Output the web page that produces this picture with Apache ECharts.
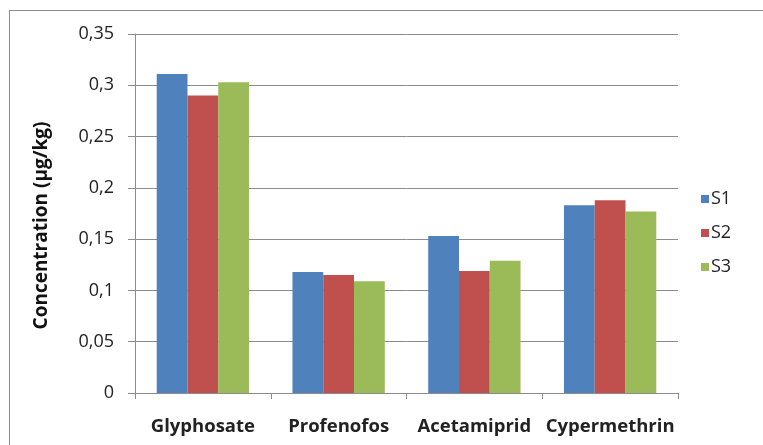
<!DOCTYPE html>
<html>
<head>
<meta charset="utf-8">
<script src="https://cdn.jsdelivr.net/npm/echarts@6/dist/echarts.min.js"></script>
<style>
html,body{margin:0;padding:0;background:#fff;}
#frame{position:absolute;left:9px;top:10px;width:760px;height:440px;border:1.5px solid #8c8c8c;box-sizing:border-box;}
#c{position:absolute;left:0;top:0;width:763px;height:445px;}
</style>
</head>
<body>
<div id="frame"></div>
<div id="c"></div>
<script>
const categories = ['Glyphosate', 'Profenofos', 'Acetamiprid', 'Cypermethrin'];
const s1 = [0.311, 0.118, 0.153, 0.183];
const s2 = [0.290, 0.115, 0.119, 0.188];
const s3 = [0.303, 0.109, 0.129, 0.177];
const yTicks = [0, 0.05, 0.1, 0.15, 0.2, 0.25, 0.3, 0.35];

const font = '"Open Sans", "Liberation Sans", sans-serif';
const chart = echarts.init(document.getElementById('c'), null, {renderer: 'canvas'});
const mk = (name, data, color) => ({
  name, type: 'bar', data, barGap: '0%', barCategoryGap: '32%',
  itemStyle: {color}
});
chart.setOption({
  animation: false,
  textStyle: {fontFamily: font},
  grid: {left: 135, right: 85, top: 34, bottom: 52},
  legend: {
    orient: 'vertical', left: 696, top: 185, itemGap: 16,
    itemWidth: 8, itemHeight: 8, icon: 'rect',
    textStyle: {fontSize: 18, color: '#222', fontFamily: font, padding: [0,0,0,-3]},
    data: ['S1', 'S2', 'S3']
  },
  xAxis: {
    type: 'category', data: categories,
    axisLine: {lineStyle: {color: '#8c8c8c', width: 1}},
    axisTick: {show: true, length: 6, lineStyle: {color: '#8c8c8c'}},
    axisLabel: {interval: 0, fontSize: 18.5, fontWeight: 'bold', color: '#222', margin: 24, fontFamily: font}
  },
  yAxis: {
    type: 'value', min: 0, max: 0.35, interval: 0.05,
    name: 'Concentration (µg/kg)', nameLocation: 'middle', nameGap: 84,
    nameTextStyle: {fontSize: 19, fontWeight: 'bold', color: '#111', fontFamily: font, padding: [0, 24, 0, 0]},
    axisLine: {show: true, lineStyle: {color: '#8c8c8c'}},
    axisTick: {show: true, length: 7, lineStyle: {color: '#8c8c8c'}},
    splitLine: {lineStyle: {color: '#8c8c8c', width: 1}},
    axisLabel: {fontSize: 18, color: '#222', margin: 21, fontFamily: font,
      formatter: v => {
        const t = yTicks.find(x => Math.abs(x - v) < 1e-9);
        return String(t !== undefined ? t : v).replace('.', ',');
      }}
  },
  series: [mk('S1', s1, '#4F81BD'), mk('S2', s2, '#C0504D'), mk('S3', s3, '#9BBB59')]
});
</script>
</body>
</html>
